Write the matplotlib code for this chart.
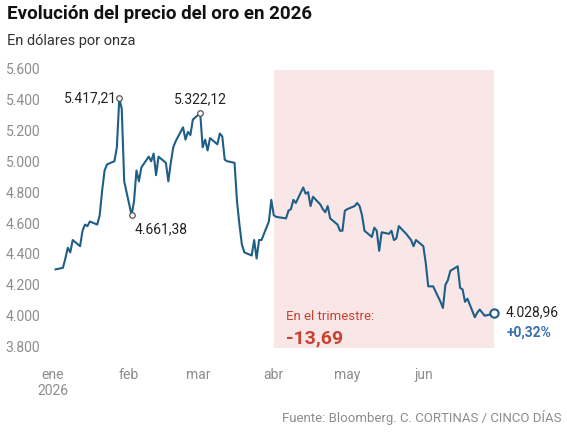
import matplotlib
matplotlib.use("Agg")
import matplotlib.pyplot as plt
import matplotlib.transforms as mtrans
import pandas as pd

dates = ["2026-01-02","2026-01-05","2026-01-06","2026-01-07","2026-01-08","2026-01-09","2026-01-12","2026-01-13","2026-01-14","2026-01-15","2026-01-16","2026-01-19","2026-01-20","2026-01-21","2026-01-22","2026-01-23","2026-01-26","2026-01-27","2026-01-28","2026-01-29","2026-01-30",
"2026-02-02","2026-02-03","2026-02-04","2026-02-05","2026-02-06","2026-02-09","2026-02-10","2026-02-11","2026-02-12","2026-02-13","2026-02-16","2026-02-17","2026-02-18","2026-02-19","2026-02-20","2026-02-23","2026-02-24","2026-02-25","2026-02-26","2026-02-27",
"2026-03-02","2026-03-03","2026-03-04","2026-03-05","2026-03-06","2026-03-09","2026-03-10","2026-03-11","2026-03-12","2026-03-13","2026-03-16","2026-03-17","2026-03-18","2026-03-19","2026-03-20","2026-03-23","2026-03-24","2026-03-25","2026-03-26","2026-03-27","2026-03-30","2026-03-31",
"2026-04-01","2026-04-02","2026-04-06","2026-04-07","2026-04-08","2026-04-09","2026-04-10","2026-04-13","2026-04-14","2026-04-15","2026-04-16","2026-04-17","2026-04-20","2026-04-21","2026-04-22","2026-04-23","2026-04-24","2026-04-27","2026-04-28","2026-04-29","2026-04-30",
"2026-05-01","2026-05-04","2026-05-05","2026-05-06","2026-05-07","2026-05-08","2026-05-11","2026-05-12","2026-05-13","2026-05-14","2026-05-15","2026-05-18","2026-05-19","2026-05-20","2026-05-21","2026-05-22","2026-05-25","2026-05-26","2026-05-27","2026-05-28","2026-05-29",
"2026-06-01","2026-06-02","2026-06-03","2026-06-04","2026-06-05","2026-06-08","2026-06-09","2026-06-10","2026-06-11","2026-06-12","2026-06-15","2026-06-16","2026-06-17","2026-06-18","2026-06-19","2026-06-22","2026-06-23","2026-06-24","2026-06-25","2026-06-26","2026-06-29","2026-06-30"]
prices = [4310,4320,4380,4450,4420,4500,4460,4560,4600,4590,4620,4600,4660,4820,4950,4990,5010,5100,5417,5350,4880,
4661,4750,4950,4880,4970,5040,5010,5060,4920,5040,5000,4880,5000,5100,5140,5230,5150,5200,5180,5280,
5322,5100,5150,5080,5160,5120,5190,5170,5020,5010,5000,4750,4600,4470,4420,4400,4500,4380,4500,4500,4620,4760,
4660,4650,4640,4690,4700,4760,4740,4840,4800,4810,4720,4780,4730,4700,4680,4720,4640,4600,4560,4560,4690,
4700,4720,4740,4720,4660,4560,4520,4580,4560,4430,4550,4540,4560,4500,4510,4590,4540,4520,4500,4460,4500,
4460,4350,4200,4200,4200,4100,4060,4210,4240,4300,4330,4190,4180,4100,4120,4000,4030,4050,4030,4010,4020,4028.96]
yticks = [3800,4000,4200,4400,4600,4800,5000,5200,5400,5600]
month_labels = ["ene\n2026","feb","mar","abr","may","jun"]
month_pos = ["2026-01-01","2026-02-01","2026-03-01","2026-04-01","2026-05-01","2026-06-01"]

d = pd.to_datetime(dates)
fig = plt.figure(figsize=(5.67,4.33), dpi=100)
plt.rcParams['font.family'] = ['Roboto','DejaVu Sans']
ax = fig.add_axes([0.085,0.196,0.80,0.642])
line_c = "#1f5e86"
ax.axvspan(pd.Timestamp("2026-04-01"), pd.Timestamp("2026-06-30"), color="#f9e6e6", lw=0)
ax.plot(d, prices, color=line_c, lw=1.5)
ax.set_ylim(3800,5600)
ax.set_xlim(pd.Timestamp("2025-12-30"), pd.Timestamp("2026-07-03"))
for s in ax.spines.values(): s.set_visible(False)
ax.set_yticks([])
tr = mtrans.blended_transform_factory(fig.transFigure, ax.transData)
for v in yticks:
    ax.text(0.01, v, f"{v/1000:.3f}", transform=tr, ha="left", va="center", fontsize=10, color="#8c8c8c")
ax.set_xticks(pd.to_datetime(month_pos))
ax.set_xticklabels(month_labels, fontsize=10, color="#8c8c8c", ha="center", va="top")
ax.tick_params(axis="x", length=0, pad=14)

def mark(i, txt, dx, dy, ha):
    ax.plot(d[i], prices[i], "o", ms=4, mfc="white", mec="#555", mew=0.9, zorder=5)
    ax.annotate(txt, (d[i], prices[i]), xytext=(dx,dy), textcoords="offset points", ha=ha, va="center", fontsize=10, color="#222")
mark(18, "5.417,21", -2, 0, "right")
mark(21, "4.661,38", 2, -10, "left")
mark(41, "5.322,12", 0, 10, "center")
ax.plot(d[-1], prices[-1], "o", ms=6, mfc="white", mec=line_c, mew=1.5, zorder=5)
ax.annotate("4.028,96", (d[-1], prices[-1]), xytext=(8,0), textcoords="offset points", va="center", fontsize=10, color="#222", annotation_clip=False)
ax.annotate("+0,32%", (d[-1], prices[-1]), xytext=(9,-14), textcoords="offset points", va="center", fontsize=10, color="#3b6fb0", fontweight="bold", annotation_clip=False)
ax.text(pd.Timestamp("2026-04-06"), 3980, "En el trimestre:", fontsize=9.5, color="#c8432f")
ax.text(pd.Timestamp("2026-04-06"), 3830, "-13,69", fontsize=14, color="#c8432f", fontweight="bold")

fig.text(0.012, 0.955, "Evolución del precio del oro en 2026", fontsize=13.5, fontweight="bold", color="#111")
fig.text(0.012, 0.895, "En dólares por onza", fontsize=10.5, color="#333")
fig.text(0.99, 0.025, "Fuente: Bloomberg. C. CORTINAS / CINCO DÍAS", fontsize=9.5, color="#8c8c8c", ha="right")
fig.savefig("out.png", dpi=100)
